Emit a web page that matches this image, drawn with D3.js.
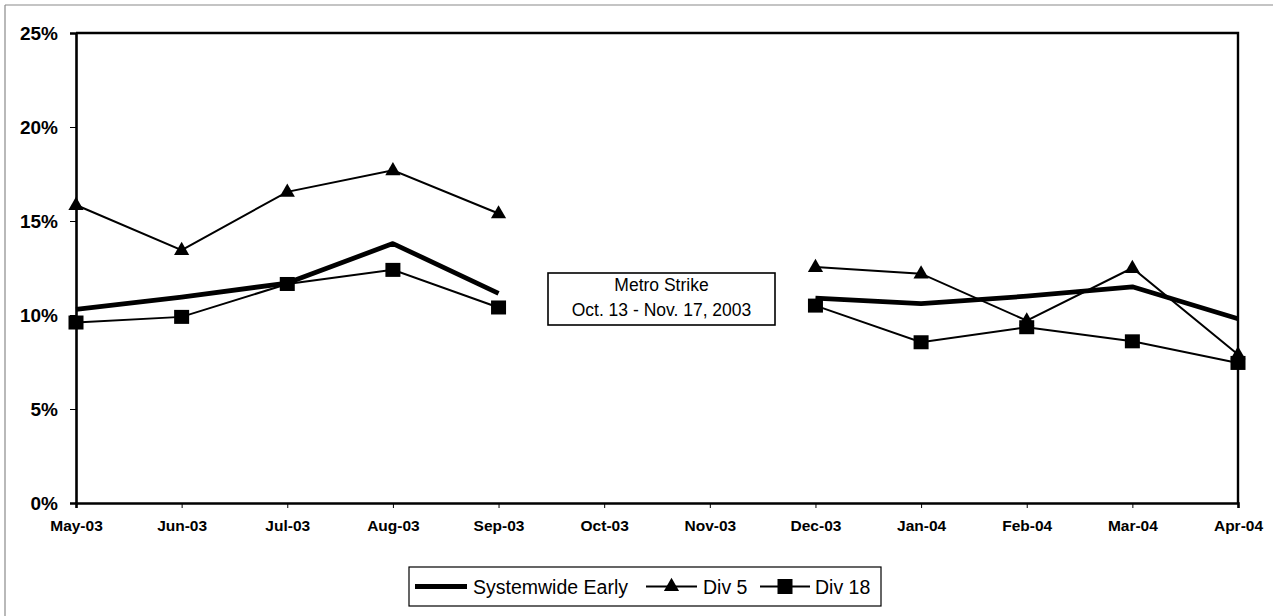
<!DOCTYPE html>
<html>
<head>
<meta charset="utf-8">
<script src="https://cdn.jsdelivr.net/npm/d3@7"></script>
<style>
  html, body { margin: 0; padding: 0; background: #fff; }
  svg { display: block; font-family: Arial, "Liberation Sans", sans-serif; }
</style>
</head>
<body>
<svg id="chart" width="1273" height="616"></svg>
<script>
const categories = ["May-03","Jun-03","Jul-03","Aug-03","Sep-03","Oct-03","Nov-03","Dec-03","Jan-04","Feb-04","Mar-04","Apr-04"];
const systemwide = [10.3, 10.95, 11.7, 13.8, 11.15, null, null, 10.9, 10.6, 11.0, 11.5, 9.8];
const div5 = [15.85, 13.45, 16.55, 17.7, 15.4, null, null, 12.55, 12.2, 9.7, 12.5, 7.9];
const div18 = [9.6, 9.9, 11.65, 12.4, 10.4, null, null, 10.5, 8.55, 9.35, 8.6, 7.45];
const yTicks = [0, 5, 10, 15, 20, 25];
const seriesNames = ["Systemwide Early", "Div 5", "Div 18"];
const annotationLines = ["Metro Strike", "Oct. 13 - Nov. 17, 2003"];

const svg = d3.select("#chart");
const W = 1273, H = 616;
const plot = { left: 76, right: 1238, top: 33, bottom: 503 };

// outer frame (partially visible)
svg.append("line").attr("x1", 5).attr("y1", 5).attr("x2", W).attr("y2", 5)
  .attr("stroke", "#8a8a8a").attr("stroke-width", 1.2);
svg.append("line").attr("x1", 5).attr("y1", 5).attr("x2", 5).attr("y2", H)
  .attr("stroke", "#8a8a8a").attr("stroke-width", 1.2);

const x = d3.scalePoint().domain(categories).range([plot.left, plot.right]);
const y = d3.scaleLinear().domain([0, 25]).range([plot.bottom, plot.top]);

// plot frame top & right
svg.append("path")
  .attr("d", `M${plot.left},${plot.top}H${plot.right}V${plot.bottom}`)
  .attr("fill", "none").attr("stroke", "#000").attr("stroke-width", 2.4);

// Y axis
const yAxis = svg.append("g").attr("transform", `translate(${plot.left},0)`)
  .call(d3.axisLeft(y).tickValues(yTicks).tickFormat(d => d + "%").tickSize(6).tickPadding(12));
yAxis.select(".domain").attr("stroke", "#000").attr("stroke-width", 2.6);
yAxis.selectAll(".tick line").attr("stroke", "#000").attr("stroke-width", 1);
yAxis.selectAll("text").attr("font-size", 19).attr("font-weight", "bold").attr("fill", "#000")
  .attr("font-family", "Arial, 'Liberation Sans', sans-serif");

// X axis
const xAxis = svg.append("g").attr("transform", `translate(0,${plot.bottom})`)
  .call(d3.axisBottom(x).tickSize(5).tickPadding(12));
xAxis.select(".domain").attr("stroke", "#000").attr("stroke-width", 2.6);
xAxis.selectAll(".tick line").attr("stroke", "#000").attr("stroke-width", 1);
xAxis.selectAll("text").attr("font-size", 15.5).attr("font-weight", "bold").attr("fill", "#000")
  .attr("font-family", "Arial, 'Liberation Sans', sans-serif");

const line = d3.line()
  .defined(d => d.v !== null)
  .x(d => x(d.c)).y(d => y(d.v));
const toPts = arr => arr.map((v, i) => ({ c: categories[i], v }));

// Div 18
svg.append("path").datum(toPts(div18)).attr("d", line)
  .attr("fill", "none").attr("stroke", "#000").attr("stroke-width", 2);
// Div 5
svg.append("path").datum(toPts(div5)).attr("d", line)
  .attr("fill", "none").attr("stroke", "#000").attr("stroke-width", 2);
// Systemwide
svg.append("path").datum(toPts(systemwide)).attr("d", line)
  .attr("fill", "none").attr("stroke", "#000").attr("stroke-width", 4.8)
  .attr("stroke-linejoin", "round");

const triSym = d3.symbol().type(d3.symbolTriangle).size(100);
svg.append("g").selectAll("path").data(toPts(div5).filter(d => d.v !== null)).join("path")
  .attr("d", triSym).attr("transform", d => `translate(${x(d.c)},${y(d.v) + 0.5})`).attr("fill", "#000");

const sq = 15;
svg.append("g").selectAll("rect").data(toPts(div18).filter(d => d.v !== null)).join("rect")
  .attr("x", d => x(d.c) - sq / 2).attr("y", d => y(d.v) - sq / 2 + 0.5)
  .attr("width", sq).attr("height", sq - 1).attr("fill", "#000");

// Annotation
const ann = svg.append("g");
ann.append("rect").attr("x", 548).attr("y", 273).attr("width", 227).attr("height", 52)
  .attr("fill", "#fff").attr("stroke", "#000").attr("stroke-width", 1.6);
ann.selectAll("text").data(annotationLines).join("text")
  .attr("x", 661.5).attr("y", (d, i) => 291 + i * 25)
  .attr("text-anchor", "middle").attr("font-size", 17.5).attr("fill", "#000")
  .text(d => d);

// Legend
const lg = svg.append("g");
lg.append("rect").attr("x", 409).attr("y", 567).attr("width", 472).attr("height", 39)
  .attr("fill", "#fff").attr("stroke", "#000").attr("stroke-width", 1.2);
const ly = 586.5;
const legendItems = [
  { name: seriesNames[0], x0: 415, x1: 467, tx: 473, w: 4.8, mark: null },
  { name: seriesNames[1], x0: 646, x1: 697, tx: 703, w: 2, mark: "tri" },
  { name: seriesNames[2], x0: 760, x1: 810, tx: 815, w: 2, mark: "sq" }
];
legendItems.forEach(it => {
  lg.append("line").attr("x1", it.x0).attr("x2", it.x1).attr("y1", ly).attr("y2", ly)
    .attr("stroke", "#000").attr("stroke-width", it.w);
  const cx = (it.x0 + it.x1) / 2;
  if (it.mark === "tri") {
    lg.append("path").attr("d", triSym).attr("transform", `translate(${cx},${ly})`).attr("fill", "#000");
  } else if (it.mark === "sq") {
    lg.append("rect").attr("x", cx - sq / 2).attr("y", ly - sq / 2).attr("width", sq).attr("height", sq).attr("fill", "#000");
  }
  lg.append("text").attr("x", it.tx).attr("y", ly + 7).attr("font-size", 19.5).attr("fill", "#000").text(it.name);
});
</script>
</body>
</html>
